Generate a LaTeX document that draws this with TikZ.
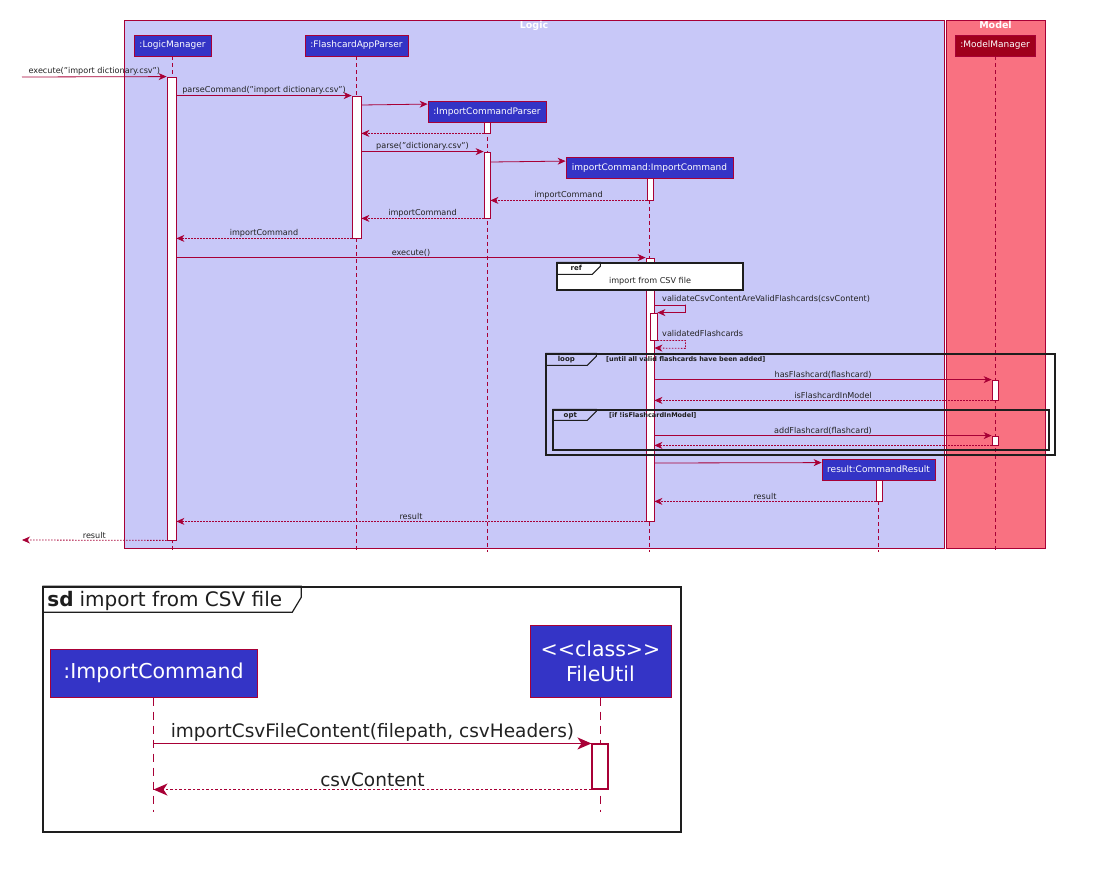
\documentclass[tikz,border=0pt]{standalone}
\usepackage{fontspec}
\setmainfont{DejaVu Sans}
\usetikzlibrary{arrows.meta,fit,calc}

\definecolor{logicbg}{HTML}{C8C8F8}
\definecolor{modelbg}{HTML}{F97181}
\definecolor{partfill}{HTML}{3434C6}
\definecolor{modelpart}{HTML}{A0001C}
\definecolor{linered}{HTML}{A80036}
\definecolor{framecol}{HTML}{1E1E1E}
\definecolor{labelcol}{HTML}{222222}

\tikzset{
  pkg/.style={draw=linered, line width=0.8pt, inner sep=0pt},
  pkgtitle/.style={text=white, font=\fontsize{9.5}{10.5}\selectfont\bfseries, inner sep=1.5pt, anchor=north},
  participant/.style={draw=linered, line width=0.8pt, fill=partfill, text=white,
    font=\fontsize{9}{10.5}\selectfont, inner sep=0pt, minimum height=21pt},
  lifeline/.style={draw=linered, line width=0.7pt, dash pattern=on 4pt off 3pt},
  act/.style={draw=linered, line width=0.8pt, fill=white, inner sep=0pt},
  msg/.style={draw=linered, line width=0.8pt, -{Stealth[length=8pt,width=7pt,inset=2.5pt]}},
  ret/.style={msg, dash pattern=on 1.6pt off 1.4pt},
  lbl/.style={text=labelcol, font=\fontsize{8.1}{9.6}\selectfont, inner sep=1pt},
  frame/.style={draw=framecol, line width=1.4pt},
  tabtext/.style={text=framecol, font=\fontsize{7}{8}\selectfont\bfseries, inner sep=0pt},
  guard/.style={text=framecol, font=\fontsize{6.5}{7.5}\selectfont\bfseries, inner sep=0pt, anchor=west},
  bigpart/.style={draw=linered, line width=1pt, fill=partfill, text=white,
    font=\fontsize{20.5}{25}\selectfont, inner sep=0pt, align=center},
  biglife/.style={draw=linered, line width=1pt, dash pattern=on 8pt off 6pt},
  bigact/.style={draw=linered, line width=1.1pt, fill=white, inner sep=0pt},
  bigmsg/.style={draw=linered, line width=1.2pt, -{Stealth[length=14pt,width=12pt,inset=4pt]}},
  bigret/.style={bigmsg, dash pattern=on 2.5pt off 2pt},
  biglbl/.style={text=labelcol, font=\fontsize{18.5}{22}\selectfont, inner sep=2pt},
}

\begin{document}
\begin{tikzpicture}[x=1pt,y=-1pt]
\useasboundingbox[fill=white] (0,0) rectangle (1094,872);

% ---------- packages ----------
\node[pkg, fill=logicbg, fit={(124,20) (944,548)}] (logic) {};
\node[pkgtitle] at (logic.north) {Logic};
\node[pkg, fill=modelbg, fit={(946,20) (1045,548)}] (model) {};
\node[pkgtitle] at (model.north) {Model};

% ---------- participants ----------
\node[participant, minimum width=77pt]  (LM)  at (172.5,45.5) {:LogicManager};
\node[participant, minimum width=103pt] (FP)  at (356.5,45.5) {:FlashcardAppParser};
\node[participant, minimum width=118pt] (ICP) at (487,112) {:ImportCommandParser};
\node[participant, minimum width=167pt] (IC)  at (649.5,168) {importCommand:ImportCommand};
\node[participant, minimum width=80pt, fill=modelpart] (MM) at (995,45.5) {:ModelManager};
\node[participant, minimum width=113pt] (CR)  at (878.5,469.5) {result:CommandResult};

% ---------- lifelines ----------
\foreach \p in {LM,FP,ICP,IC,MM,CR}
  \draw[lifeline] (\p.south) -- (\p.south |- 0,552);

% ---------- activation bars ----------
\node[act, fit={(167,77) (176,540)}]  (aLM)  {};
\node[act, fit={(352,96) (361,238)}]  (aFP)  {};
\node[act, fit={(484,122) (490,133)}] (aICP1) {};
\node[act, fit={(484,152) (490,218)}] (aICP2) {};
\node[act, fit={(647,178) (653,200)}] (aIC1) {};
\node[act, fit={(646,258) (654,521)}] (aIC2) {};
\node[act, fit={(650,313) (657,340)}] (aIC3) {};
\node[act, fit={(992,380) (998,400)}] (aMM1) {};
\node[act, fit={(992,436) (998,445)}] (aMM2) {};
\node[act, fit={(876,480) (882,501)}] (aCR) {};

% ---------- external ends ----------
\coordinate (extIn)  at (22,77);
\coordinate (extOut) at (22,540);

% ---------- parsing ----------
\draw[msg] (extIn) -- node[lbl, above] {execute("import dictionary.csv")} (aLM.north west);
\draw[msg] (aLM.east |- aFP.north) -- node[lbl, above] {parseCommand("import dictionary.csv")} (aFP.north west);
\draw[msg] (aFP.east |- 0,105) -- ($(ICP.north west)+(0,3)$);
\draw[ret] (aICP1.south west) -- (aFP.east |- aICP1.south);
\draw[msg] (aFP.east |- aICP2.north) -- node[lbl, above] {parse("dictionary.csv")} (aICP2.north west);
\draw[msg] (aICP2.east |- 0,162) -- ($(IC.north west)+(0,4)$);
\draw[ret] (aIC1.south west) -- node[lbl, above] {importCommand} (aICP2.east |- aIC1.south);
\draw[ret] (aICP2.south west) -- node[lbl, above] {importCommand} (aFP.east |- aICP2.south);
\draw[ret] (aFP.south west) -- node[lbl, above] {importCommand} (aLM.east |- aFP.south);
\draw[msg] (aLM.east |- aIC2.north) -- node[lbl, above] {execute()} (aIC2.north west);

% ---------- ref frame ----------
\node[frame, fill=white, inner sep=0pt, fit={(557,263) (743,290)}] (ref) {};
\draw[frame, line width=1pt] (ref.north west) -- ++(44,0) -- ++(0,4) -- ++(-8,8) -- ++(-36,0);
\node[tabtext] at ($(ref.north west)+(20,6)$) {ref};
\node[lbl] at ($(ref.center)+(0,5)$) {import from CSV file};

% ---------- validation (self call) ----------
\draw[msg] (aIC2.east |- 0,305) -| ($(aIC3.north east)+(28,-8)$) -- ($(aIC3.north east)+(28,0)$) -- (aIC3.north east);
\node[lbl, anchor=south west] at (661,304) {validateCsvContentAreValidFlashcards(csvContent)};
\draw[ret] (aIC3.south east) -- ++(28,0) -- ++(0,8) -- (aIC2.east |- 0,348);
\node[lbl, anchor=south west] at (661,338) {validatedFlashcards};

% ---------- loop frame ----------
\node[frame, inner sep=0pt, fit={(546,354) (1055,455)}] (loop) {};
\draw[frame, line width=1pt] (loop.north west) -- ++(51,0) -- ++(0,3) -- ++(-9,9) -- ++(-42,0);
\node[tabtext] at ($(loop.north west)+(21,6)$) {loop};
\node[guard] at (606,359.5) {[until all valid flashcards have been added]};

\draw[msg] (aIC2.east |- aMM1.north) -- node[lbl, above] {hasFlashcard(flashcard)} (aMM1.north west);
\draw[ret] (aMM1.south west) -- node[lbl, above, pos=0.47] {isFlashcardInModel} (aIC2.east |- aMM1.south);

% ---------- opt frame ----------
\node[frame, inner sep=0pt, fit={(553,410) (1049,450)}] (opt) {};
\draw[frame, line width=1pt] (opt.north west) -- ++(44,0) -- ++(0,2) -- ++(-9,9) -- ++(-35,0);
\node[tabtext] at ($(opt.north west)+(18,6)$) {opt};
\node[guard] at (609,415) {[if !isFlashcardInModel]};

\draw[msg] (aIC2.east |- aMM2.north) -- node[lbl, above] {addFlashcard(flashcard)} (aMM2.north west);
\draw[ret] (aMM2.south west) -- (aIC2.east |- aMM2.south);

% ---------- result ----------
\draw[msg] (aIC2.east |- 0,463) -- ($(CR.north west)+(0,4)$);
\draw[ret] (aCR.south west) -- node[lbl, above] {result} (aIC2.east |- aCR.south);
\draw[ret] (aIC2.south west) -- node[lbl, above] {result} (aLM.east |- aIC2.south);
\draw[ret] (aLM.south west) -- node[lbl, above] {result} (extOut);

% =============== sd: import from CSV file ===============
\node[draw=framecol, line width=1.5pt, inner sep=0pt, fit={(43,587) (681,832)}] (sd) {};
\draw[draw=framecol, line width=1.2pt] (sd.north west) -- ++(259,0) -- ++(0,11) -- ++(-9,15) -- ++(-250,0);
\node[text=framecol, font=\fontsize{20}{24}\selectfont, inner sep=0pt, anchor=base west]
  at ($(sd.north west)+(5,20)$) {\textbf{sd}\hspace{6pt}import from CSV file};

\node[bigpart, minimum width=207pt, minimum height=48pt] (bIC) at (153.5,673) {:ImportCommand};
\node[bigpart, minimum width=141pt, minimum height=72pt] (bFU) at (600.5,661) {<{}<class>{}>\\FileUtil};

\draw[biglife] (bIC.south) -- (bIC.south |- 0,812);
\draw[biglife] (bFU.south) -- (bFU.south |- 0,812);

\node[bigact, fit={(592,744) (608,789)}] (bAct) {};

\draw[bigmsg] (bIC.south |- bAct.north) -- node[biglbl, above] {importCsvFileContent(filepath, csvHeaders)} (bAct.north west);
\draw[bigret] (bAct.south west) -- node[biglbl, above] {csvContent} (bIC.south |- bAct.south);

\end{tikzpicture}
\end{document}
